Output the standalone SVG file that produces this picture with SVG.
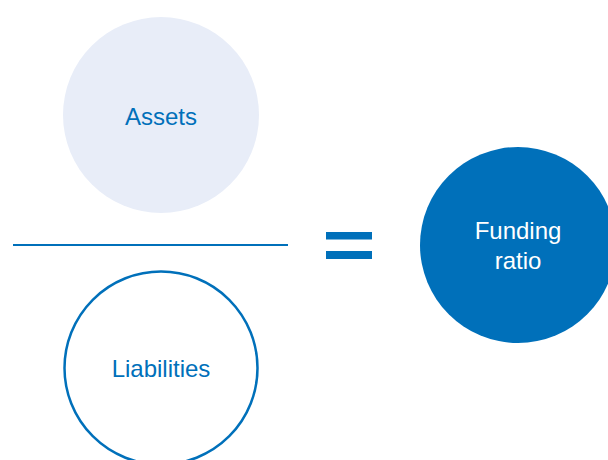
<svg xmlns="http://www.w3.org/2000/svg" width="608" height="460" viewBox="0 0 608 460">
  <style>
    .lbl { font-family: "Liberation Sans", Arial, sans-serif; font-size: 24px; text-anchor: middle; }
    .blue { fill: #0070ba; }
    .white { fill: #ffffff; }
  </style>
  <rect width="608" height="460" fill="#ffffff"/>
  <g id="assets">
    <circle cx="161" cy="115" r="98" fill="#e8edf8"/>
    <text class="lbl blue" x="161" y="125">Assets</text>
  </g>
  <g id="connectors">
    <!-- fraction bar -->
    <line x1="13" y1="245" x2="288" y2="245" stroke="#0070ba" stroke-width="2.2"/>
    <!-- equals sign -->
    <rect x="326" y="232" width="46" height="7.5" fill="#0070ba"/>
    <rect x="326" y="251" width="46" height="8" fill="#0070ba"/>
  </g>
  <g id="liabilities">
    <circle cx="161" cy="368" r="96.5" fill="#ffffff" stroke="#0070ba" stroke-width="2.5"/>
    <text class="lbl blue" x="161" y="377">Liabilities</text>
  </g>
  <g id="funding-ratio">
    <circle cx="518" cy="245" r="98" fill="#0070ba"/>
    <text class="lbl white" x="518" y="239">Funding</text>
    <text class="lbl white" x="518" y="269">ratio</text>
  </g>
</svg>
